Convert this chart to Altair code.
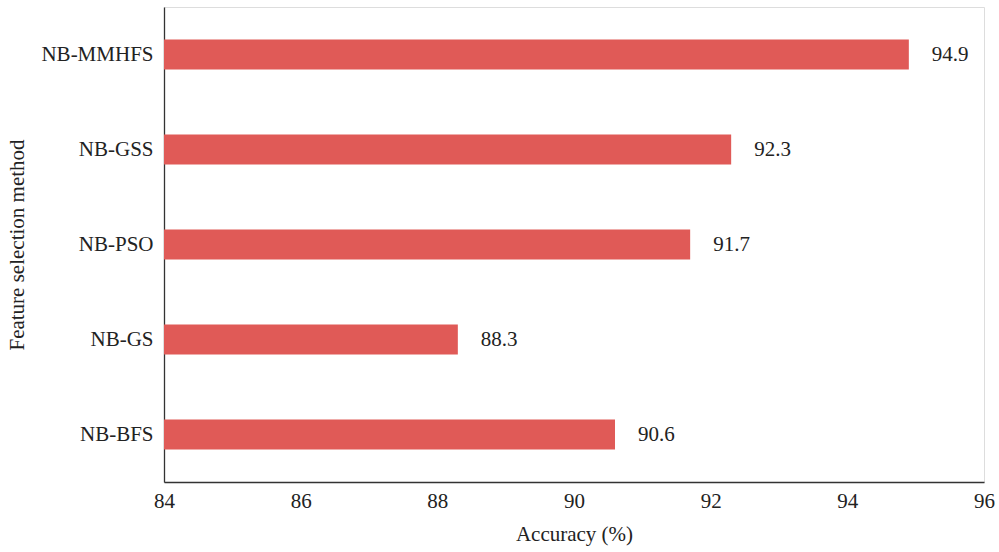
import altair as alt
import pandas as pd

methods = ["NB-MMHFS", "NB-GSS", "NB-PSO", "NB-GS", "NB-BFS"]
accuracy = [94.9, 92.3, 91.7, 88.3, 90.6]
x_ticks = [84, 86, 88, 90, 92, 94, 96]

df = pd.DataFrame({"method": methods, "acc": accuracy})

FONT = "Liberation Serif"
W, H = 820, 475
L, T = 164, 7

xscale = alt.Scale(domain=[84, 96], nice=False, zero=False)
yscale = alt.Scale(paddingInner=0.684, paddingOuter=0.342)

y_enc = alt.Y("method:N", sort=methods, scale=yscale,
              axis=alt.Axis(title="Feature selection method", labelPadding=11,
                            titlePadding=13))
x_enc = alt.X("acc:Q", scale=xscale,
              axis=alt.Axis(title="Accuracy (%)", values=x_ticks, format="d",
                            labelPadding=8, titlePadding=12, labelFlush=False))

bars = alt.Chart(df).mark_bar(color="#E05A57").encode(
    x=x_enc,
    x2=alt.datum(84),
    y=y_enc,
)
labels = alt.Chart(df).mark_text(align="left", dx=23, font=FONT, fontSize=21,
                                 color="#222222").encode(
    x=alt.X("acc:Q", scale=xscale),
    y=alt.Y("method:N", sort=methods, scale=yscale),
    text=alt.Text("acc:Q", format=".1f"))

chart = (bars + labels).properties(
    width=W, height=H,
    autosize=alt.AutoSizeParams(type="none"),
    padding={"left": L, "top": T, "right": 999 - L - W, "bottom": 552 - T - H},
).configure_view(stroke=None).configure(background="white").configure_axis(
    labelFont=FONT, titleFont=FONT, labelFontSize=21, titleFontSize=21,
    titleFontWeight="normal", ticks=False, grid=False, domainColor="#333333",
    domainWidth=1.3, labelColor="#222222", titleColor="#222222")

chart.save("out.html", embed_options={"renderer": "svg", "actions": False})
